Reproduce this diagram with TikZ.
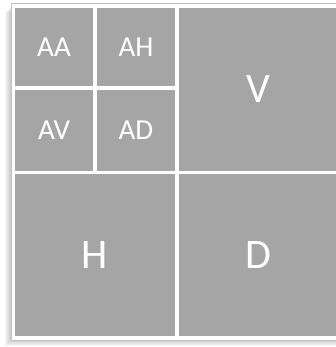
\documentclass[tikz,border=0pt]{standalone}
\usepackage{fontspec}
\setmainfont{Carlito}
\usepackage{tikz}
\usetikzlibrary{positioning}
\definecolor{cellgray}{RGB}{165,165,165}
\definecolor{framegray}{RGB}{192,192,192}
\tikzset{
  cell/.style={fill=cellgray, draw=none, text=white, inner sep=0pt, font=\fontsize{29}{30}\selectfont},
  bigcell/.style={cell, font=\fontsize{42}{44}\selectfont},
}
\begin{document}
\begin{tikzpicture}[x=1pt, y=-1pt]
  \useasboundingbox (0,0) rectangle (336,347);
  % shadow and frame
  \foreach \i in {1,...,6}
    \fill[black, opacity=0.035] (11-\i,4+\i+2) rectangle (350,340+\i);
  \draw[framegray, fill=white, line width=1pt] (11,4) rectangle (350,340);
  % sub-bands
  \node[cell, minimum width=78pt, minimum height=78pt] (aa) at (54,47) {AA};
  \node[cell, minimum width=78pt, minimum height=78pt] (ah) at (136,47) {AH};
  \node[cell, minimum width=78pt, minimum height=81pt] (av) at (54,130.5) {AV};
  \node[cell, minimum width=78pt, minimum height=81pt] (ad) at (136,130.5) {AD};
  \node[bigcell, minimum width=158pt, minimum height=163pt] (v) at (258,89.5) {V};
  \node[bigcell, minimum width=160pt, minimum height=162pt] (h) at (95,255) {H};
  \node[bigcell, minimum width=158pt, minimum height=162pt] (d) at (258,255) {D};
\end{tikzpicture}
\end{document}
